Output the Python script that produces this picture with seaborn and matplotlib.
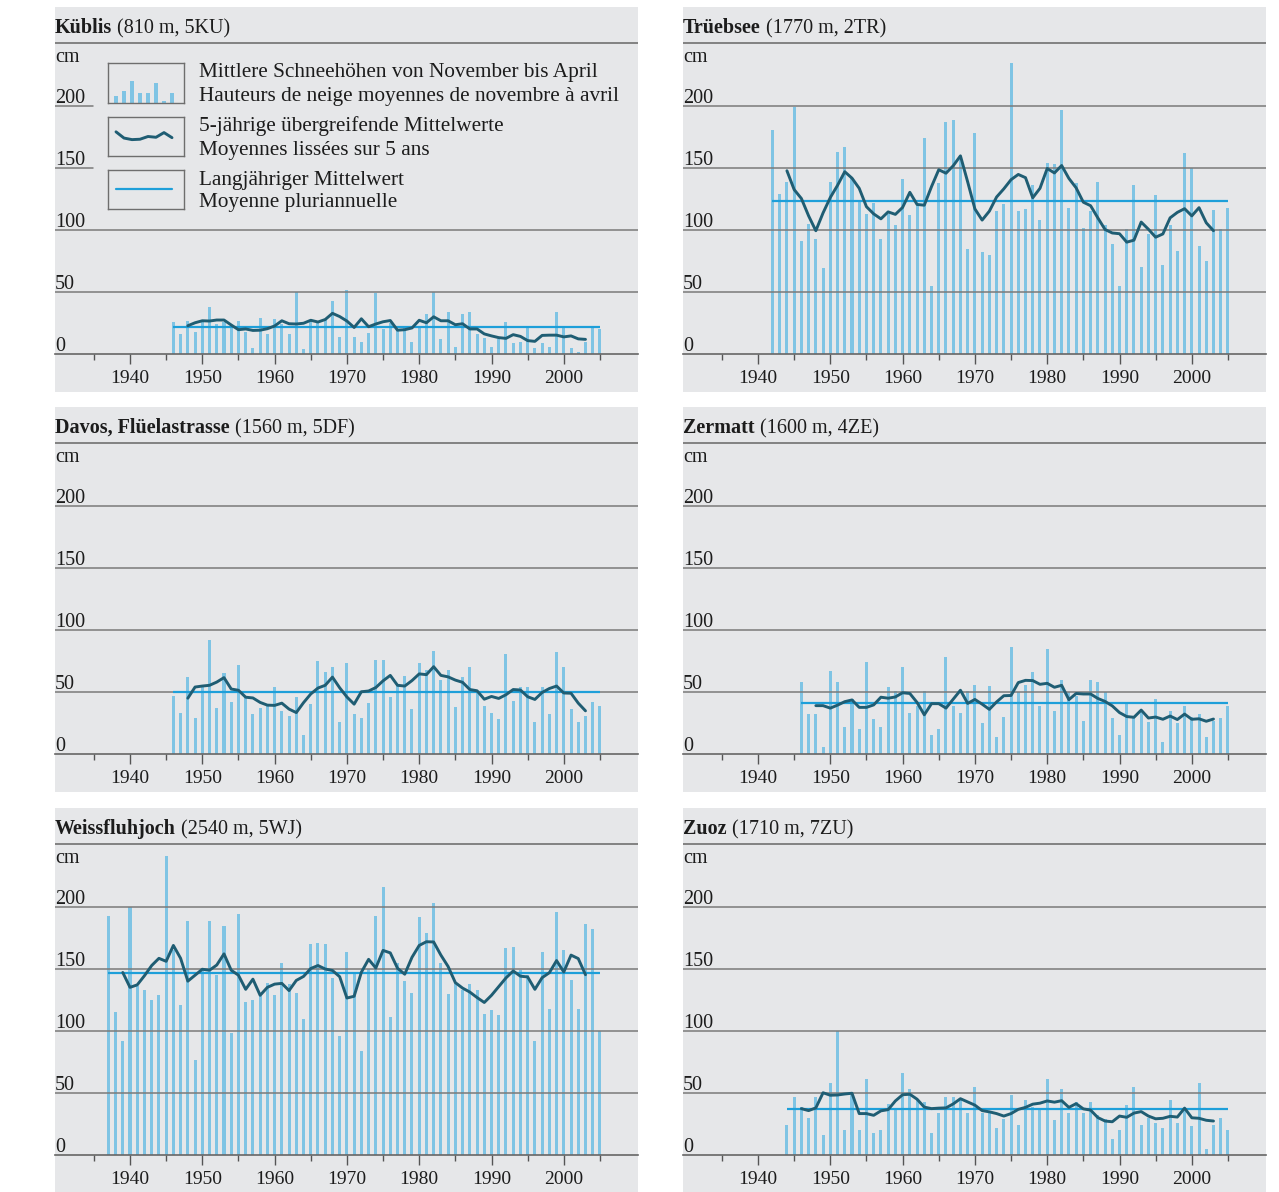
import numpy as np
import pandas as pd
import seaborn as sns
import matplotlib.pyplot as plt

# mean snow depth Nov-Apr (cm), one value per winter
kueblis_start = 1946
kueblis_cm = [26, 16, 27, 18, 27, 38, 24, 26, 22, 27,
              18, 5, 29, 16, 28, 24, 16, 50, 4, 27,
              27, 28, 43, 14, 52, 14, 10, 17, 49, 20,
              25, 19, 22, 10, 22, 32, 50, 12, 34, 6,
              32, 34, 16, 13, 6, 12, 26, 9, 10, 21,
              5, 9, 6, 34, 22, 5, 2, 10, 22, 20]
kueblis_mean = 22

trueebsee_start = 1942
trueebsee_cm = [181, 129, 139, 199, 91, 105, 93, 69, 139, 163,
                167, 142, 124, 113, 122, 93, 113, 104, 141, 112,
                121, 174, 55, 138, 187, 189, 160, 85, 178, 82,
                80, 115, 121, 235, 115, 117, 136, 108, 154, 153,
                197, 118, 138, 102, 115, 139, 104, 89, 55, 101,
                136, 70, 97, 128, 72, 104, 83, 162, 150, 87,
                75, 116, 101, 118]
trueebsee_mean = 123

davos_start = 1946
davos_cm = [47, 33, 62, 29, 54, 92, 37, 65, 42, 72,
            46, 32, 37, 39, 54, 35, 31, 46, 15, 40,
            75, 66, 70, 26, 73, 32, 29, 41, 76, 76,
            46, 56, 63, 36, 73, 68, 83, 60, 68, 38,
            62, 70, 51, 39, 33, 28, 81, 43, 54, 54,
            26, 54, 32, 82, 70, 36, 26, 31, 42, 39]
davos_mean = 50

zermatt_start = 1946
zermatt_cm = [58, 32, 32, 6, 67, 58, 22, 44, 20, 74,
              28, 22, 54, 51, 70, 33, 39, 51, 15, 20,
              78, 39, 33, 51, 56, 25, 55, 14, 30, 86,
              50, 56, 66, 39, 85, 35, 60, 50, 47, 27,
              60, 58, 50, 29, 15, 42, 31, 34, 26, 44,
              10, 35, 25, 39, 30, 32, 14, 27, 29, 39]
zermatt_mean = 41

weissfluhjoch_start = 1937
weissfluhjoch_cm = [193, 115, 92, 200, 136, 133, 125, 129, 241, 165,
                    121, 189, 77, 149, 189, 145, 185, 98, 194, 123,
                    125, 128, 139, 129, 155, 138, 131, 110, 170, 171,
                    170, 143, 96, 164, 146, 84, 150, 193, 216, 111,
                    155, 140, 131, 192, 179, 203, 155, 130, 139, 133,
                    138, 133, 114, 117, 113, 167, 168, 149, 145, 92,
                    164, 118, 196, 165, 141, 118, 186, 182, 100]
weissfluhjoch_mean = 147

zuoz_start = 1944
zuoz_cm = [24, 47, 39, 30, 47, 16, 58, 100, 20, 48,
           20, 61, 18, 20, 41, 38, 66, 53, 45, 43,
           18, 34, 47, 47, 44, 34, 55, 34, 34, 22,
           29, 48, 24, 44, 39, 37, 61, 28, 53, 34,
           43, 34, 43, 32, 29, 13, 20, 40, 55, 24,
           30, 26, 22, 44, 26, 38, 23, 58, 5, 24,
           30, 20]
zuoz_mean = 37

stations = [
    ("Küblis", " (810 m, 5KU)", kueblis_start, kueblis_cm, kueblis_mean),
    ("Trüebsee", " (1770 m, 2TR)", trueebsee_start, trueebsee_cm, trueebsee_mean),
    ("Davos, Flüelastrasse", " (1560 m, 5DF)", davos_start, davos_cm, davos_mean),
    ("Zermatt", " (1600 m, 4ZE)", zermatt_start, zermatt_cm, zermatt_mean),
    ("Weissfluhjoch", " (2540 m, 5WJ)", weissfluhjoch_start, weissfluhjoch_cm, weissfluhjoch_mean),
    ("Zuoz", " (1710 m, 7ZU)", zuoz_start, zuoz_cm, zuoz_mean),
]

y_labels = [0, 50, 100, 150, 200]
legend_lines = [
    ("Mittlere Schneehöhen von November bis April", "Hauteurs de neige moyennes de novembre à avril"),
    ("5-jährige übergreifende Mittelwerte", "Moyennes lissées sur 5 ans"),
    ("Langjähriger Mittelwert", "Moyenne pluriannuelle"),
]
icon_bars = [3, 5, 9, 4, 4, 8, 1, 4]
icon_wave = [6.2, 4.6, 4.2, 4.3, 5.0, 4.8, 6.0, 4.7]

# colours / geometry (pixels of a 1279x1192 image)
BG = '#e6e7e9'
BAR = '#7fc4e4'
MEAN = '#1e9fd9'
SMOOTH = '#1f5d73'
GRID = '#7a7a7a'
TXT = '#1c1c1c'
W, H = 1279, 1192
PW, PH = 583, 385
ZERO = 347          # zero line, px below panel top
PX_CM = 1.24
PX_YR = 7.23
X1940 = 75
panel_xy = [(55, 7), (683, 7), (55, 407), (683, 407), (55, 808), (683, 808)]

sns.set_style("white")
plt.rcParams['font.family'] = ['Liberation Serif', 'DejaVu Serif']

fig = plt.figure(figsize=(W / 100, H / 100), dpi=100)


def px_axes(x, y, w, h):
    return fig.add_axes([x / W, 1 - (y + h) / H, w / W, h / H])


def draw_panel(ax, bold, rest, start, values, mean, with_legend=False):
    years = np.arange(start, start + len(values))
    df = pd.DataFrame({'year': years, 'cm': values})
    df['smooth'] = df['cm'].rolling(5, center=True).mean()

    ax.set_facecolor(BG)
    sns.barplot(data=df, x='year', y='cm', native_scale=True, width=0.42,
                color=BAR, saturation=1, errorbar=None, ax=ax, zorder=2,
                linewidth=0, edgecolor='none')
    ax.hlines(mean, years[0], years[-1], color=MEAN, lw=1.6, zorder=4)
    sns.lineplot(data=df.dropna(), x='year', y='smooth', color=SMOOTH,
                 lw=2.1, ax=ax, zorder=5)

    xmin = 1940 - X1940 / PX_YR
    ax.set_xlim(xmin, xmin + PW / PX_YR)
    ax.set_ylim(-(PH - ZERO) / PX_CM, ZERO / PX_CM)
    ax.set_xlabel('')
    ax.set_ylabel('')

    stub = 38 / PW
    for v in y_labels[1:]:
        xmax = stub if (with_legend and v >= 150) else 1
        ax.axhline(v, xmax=xmax, color=GRID, lw=1.1, zorder=3)
    ax.axhline((ZERO - 36) / PX_CM, color=GRID, lw=1.3, zorder=3)

    tr = ax.get_yaxis_transform()
    for v in y_labels:
        ax.text(0.0, v + 2.2, str(v), transform=tr, fontsize=14.5,
                color=TXT, va='baseline', ha='left')
    ax.text(0.0, (ZERO - 55) / PX_CM, 'cm', transform=tr, fontsize=14.5,
            color=TXT, va='baseline', ha='left')

    t = ax.text(0.0, (ZERO - 26) / PX_CM, bold, transform=tr, fontsize=14.5,
                weight='bold', color=TXT, va='baseline', ha='left')
    ax.annotate(rest, xy=(1, 0), xycoords=t, fontsize=14.5, color=TXT,
                va='bottom', ha='left')

    for s in ['top', 'left', 'right']:
        ax.spines[s].set_visible(False)
    ax.spines['bottom'].set_position(('data', 0))
    ax.spines['bottom'].set_color('#666666')
    ax.spines['bottom'].set_linewidth(1.2)
    ax.spines['bottom'].set_zorder(3)
    ax.set_xticks(range(1940, 2001, 10))
    ax.set_xticks(range(1935, 2006, 10), minor=True)
    ax.set_yticks([])
    ax.tick_params(axis='x', which='major', direction='out', length=7.5,
                   width=1, color='#555555', labelsize=14, pad=3.8,
                   labelcolor=TXT, bottom=True)
    ax.tick_params(axis='x', which='minor', direction='out', length=4.5,
                   width=1, color='#555555', bottom=True)


for (x0, y0), st in zip(panel_xy, stations):
    ax = px_axes(x0, y0, PW, PH)
    draw_panel(ax, *st, with_legend=(st[0] == "Küblis"))

# legend of the first panel
icon_boxes = [(108, 63, 76, 40), (108, 117, 76, 39), (108, 170, 76, 39)]
text_y = [(73, 96), (126, 150), (180, 203)]
for i, (bx, by, bw, bh) in enumerate(icon_boxes):
    iax = px_axes(bx, by, bw, bh)
    iax.set_facecolor(BG)
    for s in iax.spines.values():
        s.set_color('#6e6e6e')
        s.set_linewidth(1.0)
    iax.set_xticks([])
    iax.set_yticks([])
    xs = np.arange(1, len(icon_bars) + 1)
    if i == 0:
        iax.bar(xs, icon_bars, width=0.42, color=BAR, linewidth=0)
        iax.set_ylim(0, 16)
    elif i == 1:
        iax.plot(xs, icon_wave, color=SMOOTH, lw=2.1)
        iax.set_ylim(0, 10)
    else:
        iax.plot([xs[0], xs[-1]], [5, 5], color=MEAN, lw=1.6)
        iax.set_ylim(0, 10)
    iax.set_xlim(0, len(icon_bars) + 1.5)
    for line, yy in zip(legend_lines[i], text_y[i]):
        fig.text(199 / W, 1 - yy / H, line, fontsize=15.3, color=TXT,
                 va='center', ha='left')

fig.savefig('out.png', dpi=100)
